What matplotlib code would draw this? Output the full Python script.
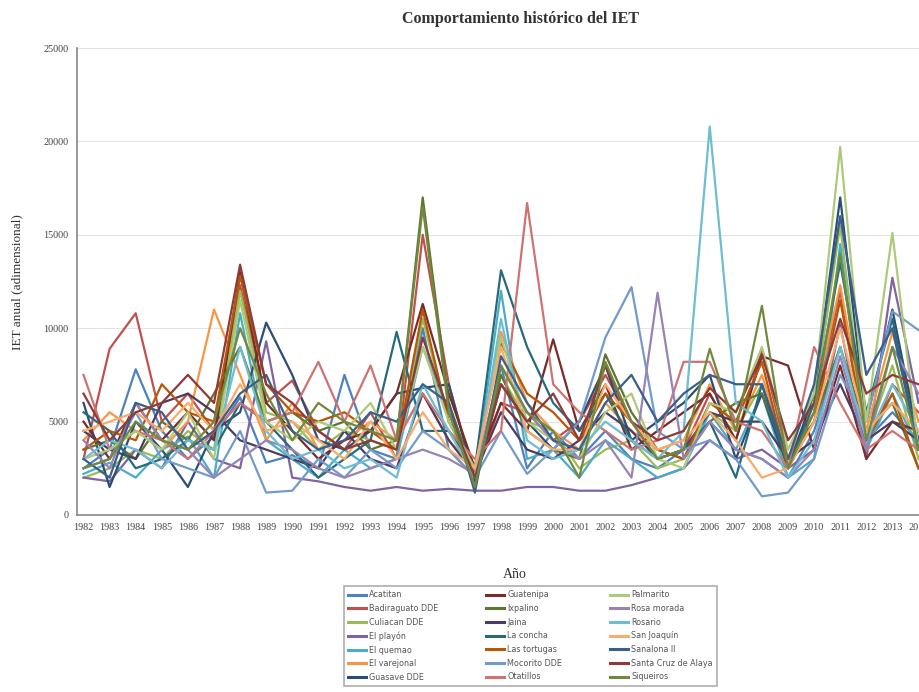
import numpy as np
import matplotlib
matplotlib.use('Agg')
import matplotlib.pyplot as plt

years = list(range(1982, 2015))

names = ['Acatitan', 'Badiraguato DDE', 'Culiacan DDE', 'El playón', 'El quemao',
         'El varejonal', 'Guasave DDE', 'Guatenipa', 'Ixpalino', 'Jaina',
         'La concha', 'Las tortugas', 'Mocorito DDE', 'Otatillos', 'Palmarito',
         'Rosa morada', 'Rosario', 'San Joaquín', 'Sanalona II',
         'Santa Cruz de Alaya', 'Siqueiros']

colors = ['#4F81BD', '#C0504D', '#9BBB59', '#8064A2', '#4BACC6', '#F79646',
          '#2C4D75', '#772C2A', '#5F7530', '#4D3B62', '#276A7C', '#B65708',
          '#729ACA', '#CD7371', '#AFC97A', '#9983B5', '#6FBDD1', '#F9AB6B',
          '#3A5F8B', '#8E3B38', '#71893F']

acatitan = [2500, 3500, 7800, 4500, 3000, 4200, 6300, 2800, 3200, 2500, 7500, 3500, 3000, 10000, 3500, 2000, 8000,
            2500, 4500, 3000, 4500, 3000, 2500, 3500, 5000, 3500, 3000, 2000, 4500, 9000, 4000, 5500, 4000]
badiraguato = [3000, 8900, 10800, 5000, 6500, 4500, 12300, 6000, 7200, 4500, 3500, 5500, 3000, 15000, 7000, 2000, 6000,
               5500, 4000, 5000, 7500, 5000, 3000, 3500, 6500, 4000, 8800, 3000, 5500, 12000, 3500, 7000, 5500]
culiacan = [2000, 2500, 3500, 3000, 4500, 3500, 12000, 5500, 5000, 3500, 4500, 4000, 3500, 10500, 5000, 2200, 7500,
            5000, 4500, 2500, 3500, 4000, 2500, 3000, 5500, 4500, 7000, 2500, 6000, 15500, 4000, 8000, 3000]
el_playon = [2000, 1800, 3500, 2500, 5000, 3000, 2500, 9300, 2000, 1800, 1500, 1300, 1500, 1300, 1400, 1300, 1300,
             1500, 1500, 1300, 1300, 1600, 2000, 2500, 4000, 3000, 3500, 2500, 3500, 10200, 3000, 12700, 6000]
el_quemao = [2200, 2800, 2000, 3500, 4200, 2000, 10800, 4000, 3000, 2000, 3500, 2500, 3000, 9000, 5500, 2000, 12000,
             3000, 3500, 2000, 4000, 3000, 2000, 2500, 5500, 3500, 6500, 2000, 3000, 14500, 3500, 6500, 3500]
el_varejonal = [4000, 5500, 4500, 3500, 5000, 11000, 7500, 4000, 6000, 3500, 4000, 5000, 4000, 6500, 4000, 2500, 9800,
                6000, 4500, 3500, 6000, 4500, 3500, 4000, 7000, 4500, 7500, 3000, 6000, 12300, 4500, 9800, 5000]
guasave = [6000, 1500, 5000, 3500, 1500, 4500, 5500, 10300, 7500, 4000, 3500, 4500, 6500, 6800, 7000, 1800, 7000,
           5000, 3500, 5000, 8000, 4000, 5000, 6000, 7500, 3000, 6500, 2500, 6500, 17000, 5000, 11000, 4000]
guatenipa = [5000, 3000, 6000, 4000, 5500, 4000, 13000, 6000, 4500, 3000, 4000, 4500, 6500, 11300, 6500, 2500, 6000,
             4500, 9400, 4500, 7000, 3500, 4500, 5500, 6500, 4000, 8500, 8000, 3500, 8000, 3000, 5000, 4500]
ixpalino = [3500, 4000, 3000, 5000, 4000, 6500, 9000, 5000, 5500, 4500, 5000, 3500, 4000, 17000, 6000, 2000, 7500,
            4500, 3500, 3000, 8600, 5500, 3500, 3000, 5000, 6000, 6500, 3000, 5000, 9000, 4500, 6000, 2500]
jaina = [4500, 3500, 3000, 6000, 6500, 5500, 4000, 3500, 3000, 2500, 4500, 3000, 2500, 6500, 4000, 2200, 5500,
         3500, 3000, 4000, 5500, 4500, 3000, 3500, 5500, 5000, 5000, 3000, 4000, 7000, 4000, 5000, 4000]
la_concha = [5500, 4500, 2500, 3000, 4000, 3500, 6000, 5000, 3500, 2000, 3000, 4000, 9800, 4500, 4500, 2500, 13100,
             9000, 6000, 4500, 6500, 4000, 3000, 3500, 5000, 2000, 7000, 2500, 6000, 13500, 5500, 10500, 3500]
las_tortugas = [3500, 4500, 4000, 7000, 5500, 5000, 12800, 7000, 5500, 5000, 5500, 4500, 3500, 11000, 5000, 2500, 9200,
                6500, 5500, 4000, 6500, 5000, 3500, 3000, 6000, 5000, 8200, 2500, 5000, 11500, 4000, 6500, 2500]
mocorito = [2500, 3000, 5500, 3000, 2500, 2000, 4500, 1200, 1300, 3000, 2000, 3500, 2500, 4500, 3500, 2000, 4500,
            2200, 3500, 5000, 9500, 12200, 4500, 3500, 4000, 3000, 1000, 1200, 3000, 7500, 5000, 10900, 9900]
otatillos = [7500, 3500, 4500, 4000, 3000, 4500, 6000, 5000, 5500, 8200, 5000, 8000, 4000, 6500, 4500, 3000, 4500,
             16700, 7000, 5500, 4500, 3500, 4000, 8200, 8200, 5000, 4500, 2500, 9000, 6000, 3500, 4500, 3500]
palmarito = [3000, 3500, 4500, 3500, 5500, 3000, 11500, 5000, 4000, 5000, 4500, 6000, 3500, 9000, 5000, 2500, 9500,
             5000, 4000, 3000, 5500, 6500, 3000, 2500, 6000, 5500, 9000, 3500, 6500, 19700, 5000, 15100, 3500]
rosa_morada = [4000, 2500, 6000, 4000, 3500, 2000, 3000, 4000, 3500, 2500, 2000, 2500, 3000, 3500, 3000, 2200, 8000,
               5500, 4000, 3000, 4000, 2000, 11900, 3000, 5000, 3500, 3000, 2000, 3500, 8500, 3500, 9000, 6500]
rosario = [3000, 4000, 3500, 2500, 4000, 3500, 9000, 4500, 3000, 3500, 2500, 3000, 2000, 7000, 4500, 2000, 10500,
           4000, 3000, 3500, 5000, 4000, 3000, 4500, 20800, 6000, 5000, 2000, 4000, 9000, 4000, 7000, 4500]
san_joaquin = [4500, 5000, 5500, 4500, 6000, 4500, 7000, 4500, 5000, 4000, 3000, 5000, 3000, 5500, 3500, 2500, 9000,
               4500, 3500, 3500, 7000, 5000, 3500, 4000, 5500, 4000, 2000, 2500, 5000, 10000, 4500, 6000, 4500]
sanalona = [3000, 2000, 6000, 5500, 3500, 4500, 6500, 7500, 4500, 3500, 4000, 5500, 5000, 7000, 6000, 1200, 8500,
            6000, 4000, 3500, 6000, 7500, 5000, 6500, 7500, 7000, 7000, 3000, 7000, 16000, 7500, 10000, 3500]
santa_cruz = [6500, 4000, 5500, 6000, 7500, 6000, 13400, 7000, 6000, 4500, 3500, 4000, 3500, 9500, 5500, 2000, 7000,
              5000, 6500, 4000, 8000, 5000, 4000, 4500, 6800, 5500, 8600, 4000, 6000, 10500, 6500, 7500, 7000]
siqueiros = [2500, 3000, 5000, 4000, 3500, 5000, 10000, 6500, 4000, 6000, 5000, 4500, 4000, 16500, 5500, 1500, 8000,
             5500, 4500, 2000, 8200, 5000, 3000, 3500, 8900, 4500, 11200, 2500, 5500, 14000, 4000, 9000, 3500]

series = [acatitan, badiraguato, culiacan, el_playon, el_quemao, el_varejonal, guasave,
          guatenipa, ixpalino, jaina, la_concha, las_tortugas, mocorito, otatillos,
          palmarito, rosa_morada, rosario, san_joaquin, sanalona, santa_cruz, siqueiros]

fig = plt.figure(figsize=(9.19, 6.92), dpi=100)
ax = fig.add_axes([77 / 919, 177 / 692, 848 / 919, 467 / 692])

for name, vals, c in zip(names, series, colors):
    ax.plot(years, vals, color=c, lw=1.6, label=name)

ax.set_xlim(1981.75, 2014.25)
ax.set_ylim(0, 25000)
ax.set_xticks(years)
ax.set_xticklabels([str(y) for y in years], fontsize=7.3, family='Liberation Serif', color='#444444')
ax.set_yticks(range(0, 25001, 5000))
ax.set_yticklabels([str(v) for v in range(0, 25001, 5000)], fontsize=7.3,
                   family='Liberation Serif', color='#444444')
ax.tick_params(axis='both', length=0, pad=6)
ax.yaxis.grid(True, color='#e4e4e4', lw=0.8)
ax.set_axisbelow(True)
for s in ['top', 'right']:
    ax.spines[s].set_visible(False)
for s in ['left', 'bottom']:
    ax.spines[s].set_color('#888888')
    ax.spines[s].set_linewidth(1.2)

fig.text(520 / 919, 1 - 19 / 692, 'Comportamiento histórico del IET', ha='center', va='center',
         fontsize=11.5, fontweight='bold', family='Liberation Serif', color='#333333')
fig.text(17 / 919, 1 - 282 / 692, 'IET anual (adimensional)', ha='center', va='center', rotation=90,
         fontsize=9.5, family='Liberation Serif', color='#333333')
fig.text(515 / 919, 1 - 574 / 692, 'Año', ha='center', va='center',
         fontsize=10, family='Liberation Serif', color='#333333')

leg = fig.legend(loc='lower left', bbox_to_anchor=(340 / 919, 2 / 692, 381 / 919, 100 / 692),
                 mode='expand', ncol=3, fontsize=5.8, frameon=True, fancybox=False,
                 handlelength=2.2, labelspacing=0.58, borderpad=0.5, handletextpad=0.4)
leg.get_frame().set_edgecolor('#999999')
leg.get_frame().set_linewidth(1.2)
for line in leg.get_lines():
    line.set_linewidth(2.2)
for t in leg.get_texts():
    t.set_color('#555555')

fig.savefig('out.png', dpi=100)
